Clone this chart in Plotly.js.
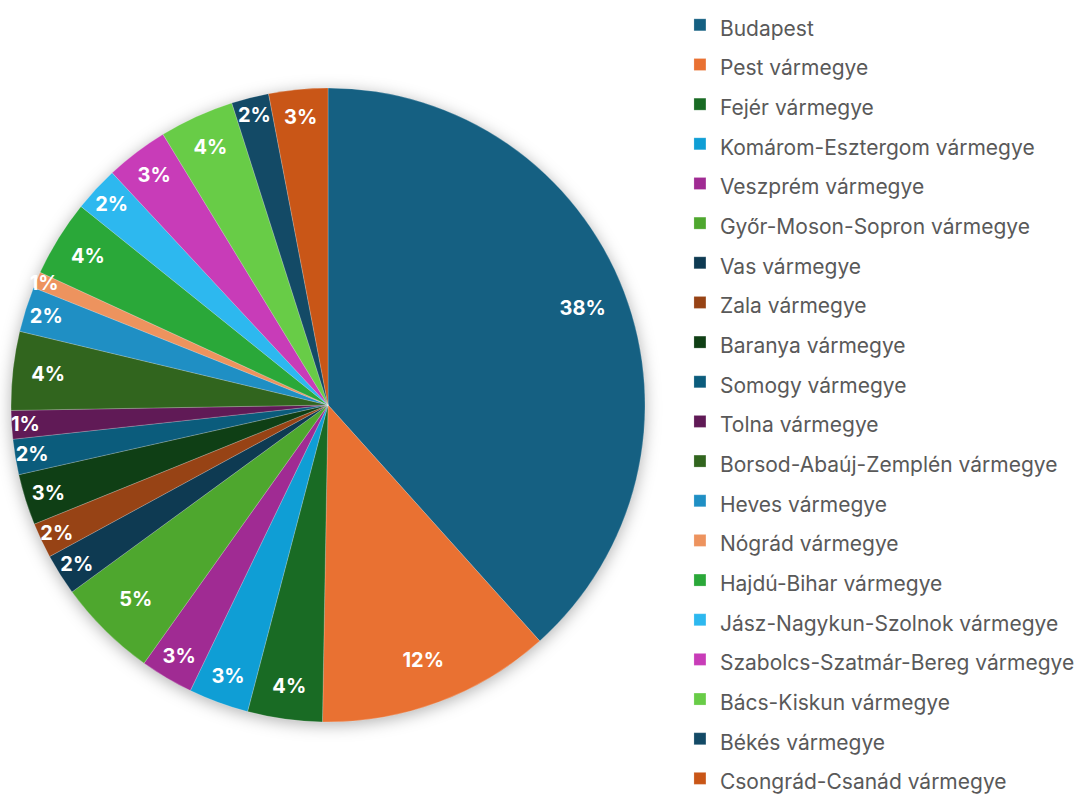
<!DOCTYPE html>
<html><head><meta charset="utf-8">
<script src="https://cdn.plot.ly/plotly-3.0.1.min.js"></script>
<style>
html,body{margin:0;padding:0;background:#fff;}
#chart{width:1081px;height:806px;}
#chart .pielayer .trace:first-child{filter:drop-shadow(0px 3px 8px rgba(0,0,0,0.3));}
</style></head>
<body><div id="chart"></div>
<script>
const regions = ["Budapest","Pest vármegye","Fejér vármegye","Komárom-Esztergom vármegye","Veszprém vármegye","Győr-Moson-Sopron vármegye","Vas vármegye","Zala vármegye","Baranya vármegye","Somogy vármegye","Tolna vármegye","Borsod-Abaúj-Zemplén vármegye","Heves vármegye","Nógrád vármegye","Hajdú-Bihar vármegye","Jász-Nagykun-Szolnok vármegye","Szabolcs-Szatmár-Bereg vármegye","Bács-Kiskun vármegye","Békés vármegye","Csongrád-Csanád vármegye"];
const shares = [38.3, 11.9, 3.8, 3.06, 2.7, 5.1, 2.1, 1.8, 2.6, 1.8, 1.45, 4.0, 2.3, 0.83, 3.9, 2.3, 3.2, 3.8, 1.9, 3.0];
const colors = ["#156082","#E97132","#196B24","#0F9ED5","#A02B93","#4EA72E","#0E3A52","#974315","#0F3F15","#0B5C7C","#601A56","#31651E","#1F8FC4","#ED935E","#2AA839","#2DB8EF","#C83CB8","#68CC47","#134A66","#C95617"];

const legendLabels = regions.map(r => '<span style="font-size:21px">' + r + '</span>');

const dom = {x:[0.0102, 0.5967], y:[0.1042, 0.8908]};

const pie = {
  type:'pie', labels: legendLabels, values: shares, sort:false, direction:'clockwise', rotation:0,
  marker:{colors: colors, line:{color:'rgba(255,255,255,0.35)', width:0.6}},
  textinfo:'none', hoverinfo:'label+percent', domain: dom, showlegend:true
};
const ring = {
  type:'pie', labels: legendLabels, values: shares, sort:false, direction:'clockwise', rotation:0,
  hole:0.72, marker:{colors: colors.map(()=> 'rgba(0,0,0,0)'), line:{width:0}},
  texttemplate:'%{percent:.0%}', textposition:'inside', insidetextorientation:'horizontal',
  textfont:{family:'Inter, "Noto Sans", sans-serif', size:20, color:'#ffffff', weight:'bold'},
  hoverinfo:'skip', domain: dom, showlegend:false
};

const layout = {
  width:1081, height:806, margin:{l:0,r:0,t:0,b:0},
  paper_bgcolor:'#ffffff', plot_bgcolor:'#ffffff',
  uniformtext:{mode:'show', minsize:20},
  showlegend:true,
  legend:{x:0.6290, xanchor:'left', y:1, yanchor:'top', traceorder:'normal',
    font:{family:'Inter, "Noto Sans", sans-serif', size:28.2, color:'#595959'},
    bgcolor:'rgba(0,0,0,0)'}
};
Plotly.newPlot('chart', [pie, ring], layout, {displayModeBar:false, staticPlot:true});
</script></body></html>
